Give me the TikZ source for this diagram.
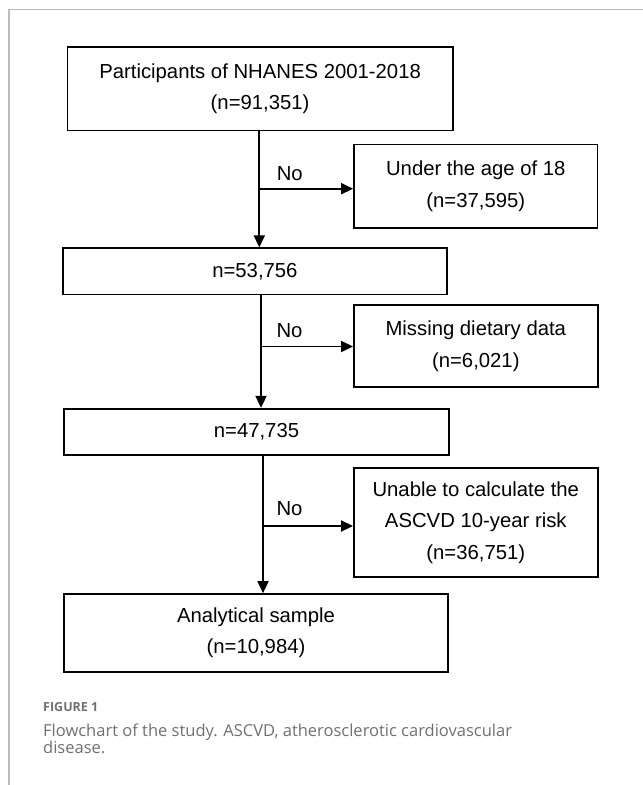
\documentclass[tikz,border=0pt]{standalone}
\usepackage{fontspec}
\setmainfont{Liberation Sans}
\newfontfamily\capfont{Open Sans}
\usetikzlibrary{arrows.meta,calc}
\definecolor{framegray}{HTML}{BBBBBB}
\definecolor{capgray}{HTML}{707070}
\begin{document}
\begin{tikzpicture}[x=1pt,y=-1pt,
  box/.style={draw=black,line width=1.8pt,rectangle,inner sep=0pt,align=center,
    font=\fontsize{20.3}{31.5}\selectfont},
  flow/.style={line width=1.8pt,-{Triangle[length=12pt,width=11pt]}},
  nolab/.style={anchor=base west,font=\fontsize{20.3}{24}\selectfont}]
\useasboundingbox (0,0) rectangle (643,785);
\draw[framegray,line width=1.5pt] (9,785) -- (9,9.3) -- (643,9.3);

\node[box,minimum width=385.2pt,minimum height=83.8pt] (b1) at (260.1,88.6)
  {Participants of NHANES 2001-2018\\(n=91,351)};
\node[box,minimum width=243.5pt,minimum height=83.2pt] (u) at (475.8,186.1)
  {Under the age of 18\\(n=37,595)};
\node[box,minimum width=384.3pt,minimum height=46.2pt] (b2) at (254.9,271.4)
  {n=53,756};
\node[box,minimum width=243.7pt,minimum height=82.3pt] (m) at (475.8,346.2)
  {Missing dietary data\\(n=6,021)};
\node[box,minimum width=385pt,minimum height=46.3pt] (b3) at (256.5,431.9)
  {n=47,735};
\node[box,minimum width=243.7pt,minimum height=108.4pt] (un) at (475.8,522.5)
  {Unable to calculate the\\ASCVD 10-year risk\\(n=36,751)};
\node[box,minimum width=384pt,minimum height=77.7pt] (b4) at (256,632.9)
  {Analytical sample\\(n=10,984)};

\coordinate (j1) at (259.3,188.7);
\coordinate (j2) at (261,346.5);
\coordinate (j3) at (263,526);

\draw[flow] (b1.south -| j1) -- (b2.north -| j1);
\draw[flow] (j1) -- (j1 -| u.west);
\node[nolab] (n1) at ($(j1)+(14,-8)$) {No};

\draw[flow] (b2.south -| j2) -- (b3.north -| j2);
\draw[flow] (j2) -- (j2 -| m.west);
\node[nolab] (n2) at ($(j2)+(12,-9)$) {No};

\draw[flow] (b3.south -| j3) -- (b4.north -| j3);
\draw[flow] (j3) -- (j3 -| un.west);
\node[nolab] (n3) at ($(j3)+(10,-11)$) {No};

\node[anchor=base west,inner sep=0pt,font=\capfont\bfseries\fontsize{12.5}{14}\selectfont,text=capgray]
  (fig) at (43,711) {FIGURE 1};
\node[anchor=base west,align=left,inner sep=0pt,
  font=\capfont\fontsize{16.5}{17}\selectfont,text=capgray]
  (cap) at (43,753) {Flowchart of the study. ASCVD, atherosclerotic cardiovascular\\disease.};
\end{tikzpicture}
\end{document}
